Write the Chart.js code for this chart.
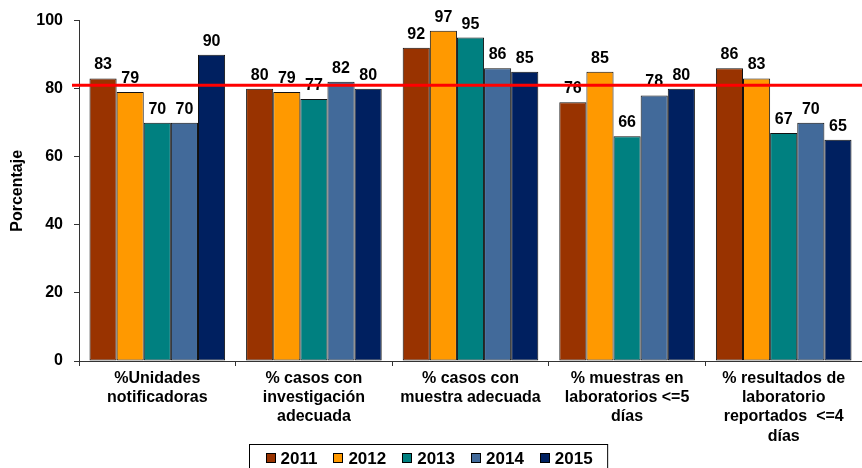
<!DOCTYPE html>
<html>
<head>
<meta charset="utf-8">
<script src="https://cdn.jsdelivr.net/npm/chart.js@4/dist/chart.umd.min.js"></script>
<style>
  html, body { margin: 0; padding: 0; background: #fff; overflow: hidden; }
  #wrap { width: 862px; height: 468px; position: relative; }
</style>
</head>
<body>
<div id="wrap"><canvas id="indicadores"></canvas></div>
<script>
"use strict";
// categories (multi-line axis labels)
var categories = [
  ["%Unidades", "notificadoras"],
  ["% casos con", "investigación", "adecuada"],
  ["% casos con", "muestra adecuada"],
  ["% muestras en", "laboratorios <=5", "días"],
  ["% resultados de", "laboratorio", "reportados  <=4", "días"]
];
var years = ["2011", "2012", "2013", "2014", "2015"];
var v2011 = [83, 80, 92, 76, 86];
var v2012 = [79, 79, 97, 85, 83];
var v2013 = [70, 77, 95, 66, 67];
var v2014 = [70, 82, 86, 78, 70];
var v2015 = [90, 80, 85, 80, 65];
var colors = ["#993300", "#FF9900", "#008080", "#426A9A", "#002060"];
var metaLinea = 81;

var FONT = "Arial, 'Liberation Sans', sans-serif";
Chart.defaults.font.family = FONT;
Chart.defaults.color = "#000";

document.addEventListener("DOMContentLoaded", function () {
  var series = [v2011, v2012, v2013, v2014, v2015];

  var etiquetas = {
    id: "etiquetas",
    afterDatasetsDraw: function (chart) {
      var ctx = chart.ctx;
      ctx.save();
      ctx.font = "bold 16px " + FONT;
      ctx.fillStyle = "#000";
      ctx.textAlign = "center";
      ctx.textBaseline = "alphabetic";
      chart.data.datasets.forEach(function (ds, i) {
        chart.getDatasetMeta(i).data.forEach(function (bar, j) {
          ctx.fillText(String(ds.data[j]), bar.x, bar.y - 9);
        });
      });
      // linea de meta
      var y = chart.scales.y.getPixelForValue(metaLinea);
      ctx.beginPath();
      ctx.strokeStyle = "#FF0000";
      ctx.lineWidth = 3;
      ctx.moveTo(chart.chartArea.left - 7, y);
      ctx.lineTo(chart.width, y);
      ctx.stroke();
      ctx.restore();
    }
  };

  var leyenda = {
    id: "leyenda",
    afterDraw: function (chart) {
      var ctx = chart.ctx;
      ctx.save();
      ctx.font = "bold 17px " + FONT;
      var widths = chart.data.datasets.map(function (d) { return ctx.measureText(d.label).width; });
      var total = 16 + 15 - 16;
      widths.forEach(function (w) { total += 10 + 5 + w + 16; });
      var x0 = Math.round(428.5 - total / 2) + 0.5;
      ctx.strokeStyle = "#000";
      ctx.lineWidth = 1;
      ctx.strokeRect(x0, 444.5, total, 30);
      var x = x0 + 16;
      ctx.textBaseline = "middle";
      ctx.textAlign = "left";
      chart.data.datasets.forEach(function (d, i) {
        ctx.fillStyle = d.backgroundColor;
        ctx.fillRect(Math.round(x), 453, 10, 10);
        ctx.strokeRect(Math.round(x) + 0.5, 453.5, 9, 9);
        ctx.fillStyle = "#000";
        ctx.fillText(d.label, x + 15, 459);
        x += 10 + 5 + widths[i] + 16;
      });
      ctx.restore();
    }
  };

  var ctx = document.getElementById("indicadores").getContext("2d");
  new Chart(ctx, {
    type: "bar",
    data: {
      labels: categories,
      datasets: years.map(function (y, i) {
        return {
          label: y,
          data: series[i],
          backgroundColor: colors[i],
          borderColor: "#111",
          borderWidth: 1,
          borderSkipped: false,
          categoryPercentage: 0.866,
          barPercentage: 1
        };
      })
    },
    options: {
      responsive: true,
      maintainAspectRatio: false,
      animation: false,
      layout: { padding: { left: 8, top: 20, right: -3, bottom: 0 } },
      plugins: { legend: { display: false }, tooltip: { enabled: false } },
      scales: {
        y: {
          min: 0,
          max: 100,
          ticks: { stepSize: 20, padding: 11, color: "#000", font: { size: 16, weight: "bold" } },
          grid: { drawOnChartArea: false, drawTicks: true, tickLength: 5, color: "#333" },
          border: { display: true, color: "#333", width: 1 },
          title: { display: true, text: "Porcentaje", color: "#000", padding: 0, font: { size: 16, weight: "bold" } },
          afterFit: function (s) { s.width = 71; }
        },
        x: {
          ticks: { autoSkip: false, maxRotation: 0, minRotation: 0, padding: 3, color: "#000", font: { size: 16, weight: "bold", lineHeight: 1.2 } },
          grid: { drawOnChartArea: false, drawTicks: true, tickLength: 5, color: "#333" },
          border: { display: true, color: "#333", width: 1 },
          afterFit: function (s) { s.height = 107; }
        }
      }
    },
    plugins: [etiquetas, leyenda]
  });
});
</script>
</body>
</html>
